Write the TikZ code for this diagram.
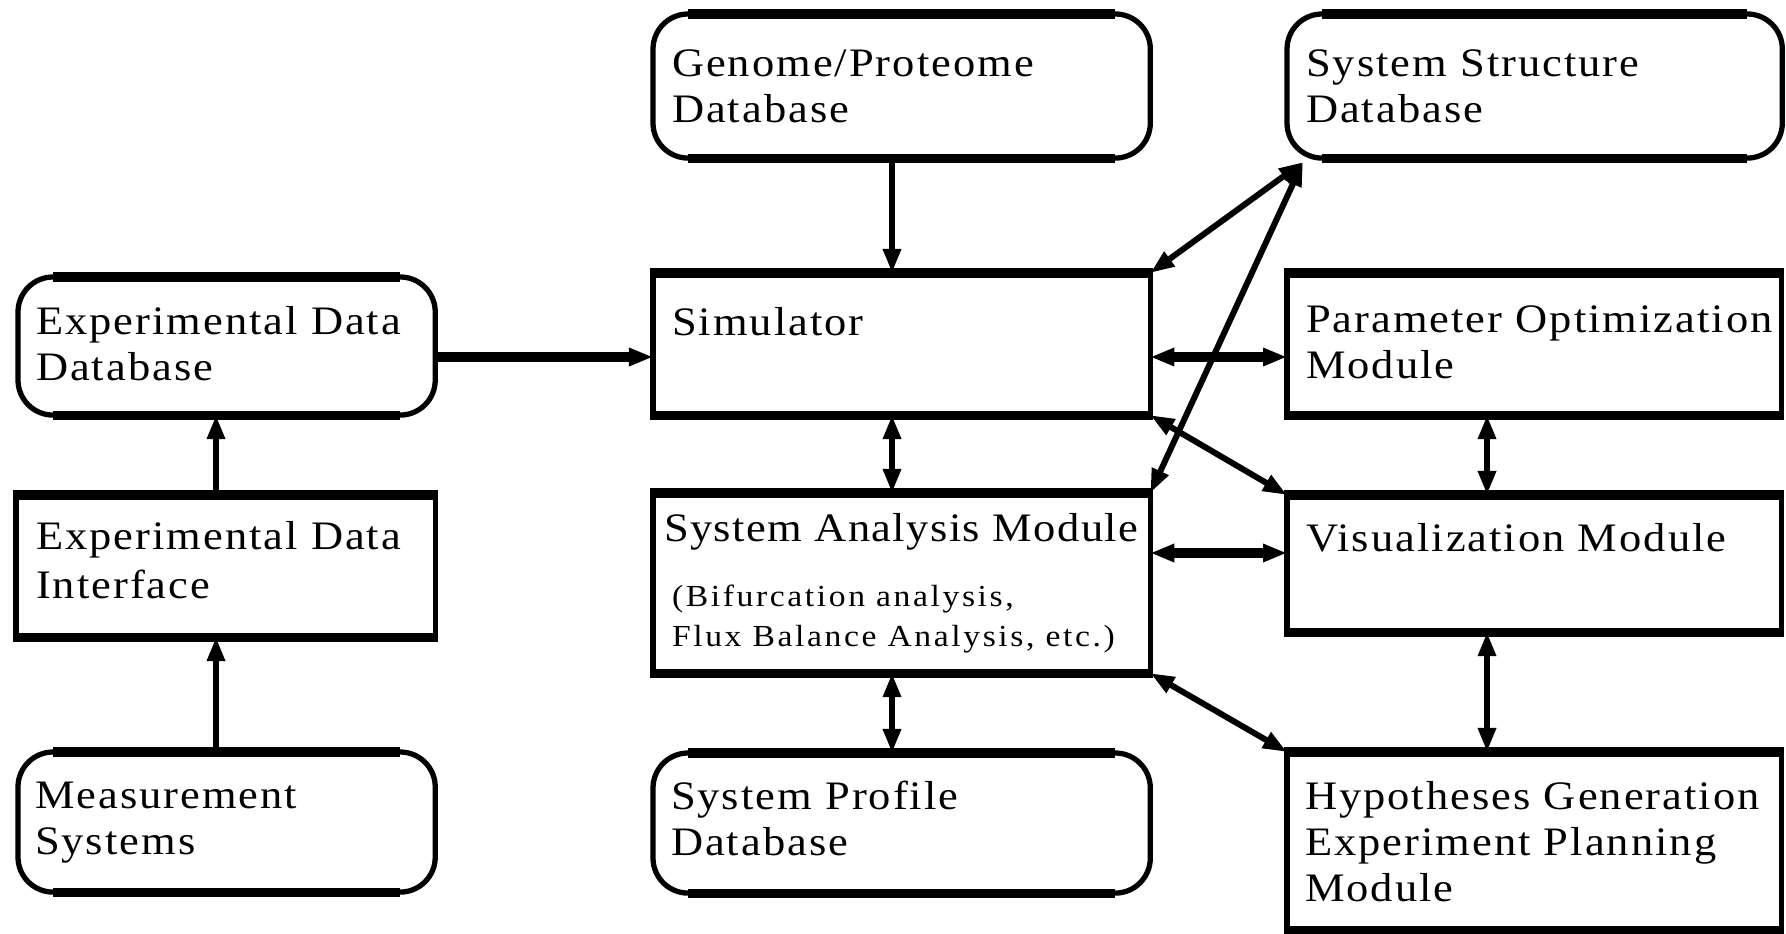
\documentclass[tikz,border=0pt]{standalone}
\usepackage{fontspec}
\setmainfont{Liberation Serif}[FakeStretch=1.1,LetterSpace=5]
\newfontfamily\smallfnt{Liberation Serif}[FakeStretch=1.1,LetterSpace=8.5]
\usetikzlibrary{arrows.meta,calc}
\newcommand\mystrut{\rule{0pt}{9pt}}
\newcommand\mysmallstrut{\rule{0pt}{7pt}}
\begin{document}
\begin{tikzpicture}[x=0.01cm,y=-0.01cm,
  rbox/.style={draw, line width=1.5pt, inner sep=0pt, outer sep=0pt, anchor=north west},
  dbbox/.style={rbox, rounded corners=0.35cm},
  txt/.style={anchor=north west, inner sep=0pt, outer sep=0pt, align=left, font=\fontsize{11.5}{13}\selectfont},
  smalltxt/.style={txt, font={\smallfnt\fontsize{8.7}{11.4}\selectfont}},
  bar/.style={line width=2.6pt},
  conn/.style={line width=1.7pt},
  heavy/.style={line width=2.6pt},
  oneway/.style={conn, -{Triangle[length=0.24cm,width=0.17cm]}},
  twoway/.style={conn, {Triangle[length=0.24cm,width=0.17cm]}-{Triangle[length=0.24cm,width=0.17cm]}}
]
\useasboundingbox (0,0) rectangle (1786,934);

% database (rounded) boxes
\node[dbbox, minimum width=4.97cm, minimum height=1.44cm] (gen) at (653,14) {};
\node[dbbox, minimum width=4.95cm, minimum height=1.44cm] (ss) at (1287,14) {};
\node[dbbox, minimum width=4.17cm, minimum height=1.38cm] (expdb) at (18,277) {};
\node[dbbox, minimum width=4.17cm, minimum height=1.40cm] (ms) at (18,752) {};
\node[dbbox, minimum width=4.97cm, minimum height=1.40cm] (sp) at (653,753) {};

% module (rectangular) boxes
\node[rbox, minimum width=4.97cm, minimum height=1.42cm] (sim) at (653,273) {};
\node[rbox, minimum width=4.94cm, minimum height=1.42cm] (po) at (1287,273) {};
\node[rbox, minimum width=4.19cm, minimum height=1.42cm] (edi) at (16,495) {};
\node[rbox, minimum width=4.97cm, minimum height=1.80cm] (sa) at (653,493) {};
\node[rbox, minimum width=4.94cm, minimum height=1.37cm] (vis) at (1287,495) {};
\node[rbox, minimum width=4.94cm, minimum height=1.78cm] (hyp) at (1287,752) {};

% heavier top and bottom edges
\foreach \n in {sim,po,edi,sa,vis,hyp}{
  \draw[bar] ([xshift=-0.75pt]\n.north west) -- ([xshift=0.75pt]\n.north east)
             ([xshift=-0.75pt]\n.south west) -- ([xshift=0.75pt]\n.south east);
}
\foreach \n in {gen,ss,expdb,ms,sp}{
  \draw[bar] ([xshift=0.35cm]\n.north west) -- ([xshift=-0.35cm]\n.north east)
             ([xshift=0.35cm]\n.south west) -- ([xshift=-0.35cm]\n.south east);
}

% texts
\node[txt] (gent) at ($(gen.north west)+(19,31)$) {\mystrut Genome/Proteome\\Database};
\node[txt] (sst) at ($(ss.north west)+(19,31)$) {\mystrut System Structure\\Database};
\node[txt] (expdbt) at ($(expdb.north west)+(18,26)$) {\mystrut Experimental Data\\Database};
\node[txt] (simt) at ($(sim.north west)+(19,31)$) {\mystrut Simulator};
\node[txt] (pot) at ($(po.north west)+(19,28)$) {\mystrut Parameter Optimization\\Module};
\node[txt, font=\fontsize{11.5}{14}\selectfont] (edit) at ($(edi.north west)+(20,23)$) {\mystrut Experimental Data\\Interface};
\node[txt, font={\fontsize{11.5}{13}\selectfont\addfontfeatures{LetterSpace=3.5}}] (sat) at ($(sa.north west)+(11,17)$) {\mystrut System Analysis Module};
\node[smalltxt] (sat2) at ($(sa.north west)+(19,89)$) {\mysmallstrut(Bifurcation analysis,\\Flux Balance Analysis, etc.)};
\node[txt] (vist) at ($(vis.north west)+(19,25)$) {\mystrut Visualization Module};
\node[txt] (mst) at ($(ms.north west)+(17,25)$) {\mystrut Measurement\\Systems};
\node[txt] (spt) at ($(sp.north west)+(18,25)$) {\mystrut System Profile\\Database};
\node[txt] (hypt) at ($(hyp.north west)+(18,26)$) {\mystrut Hypotheses Generation\\Experiment Planning\\Module};

% reference lines for connectors
\coordinate (xa) at (892,0);
\coordinate (xb) at (1487,0);
\coordinate (xc) at (216,0);
\coordinate (yd) at (0,357);
\coordinate (ye) at (0,553);
\coordinate (ssc) at ([xshift=0.16cm,yshift=-0.04cm]ss.south west);

% connectors
\draw[oneway] (gen.south -| xa) -- (sim.north -| xa);
\draw[oneway, heavy] (expdb.east |- yd) -- (sim.west |- yd);
\draw[oneway] (edi.north -| xc) -- (expdb.south -| xc);
\draw[oneway] (ms.north -| xc) -- (edi.south -| xc);
\draw[twoway] (sim.south -| xa) -- (sa.north -| xa);
\draw[twoway] (sa.south -| xa) -- (sp.north -| xa);
\draw[twoway, heavy] (sim.east |- yd) -- (po.west |- yd);
\draw[twoway, heavy] (sa.east |- ye) -- (vis.west |- ye);
\draw[twoway] (po.south -| xb) -- (vis.north -| xb);
\draw[twoway] (vis.south -| xb) -- (hyp.north -| xb);
\draw[twoway] (sim.north east) -- (ssc);
\draw[twoway] (sa.north east) -- (ssc);
\draw[twoway] (sim.south east) -- (vis.north west);
\draw[twoway] (sa.south east) -- (hyp.north west);
\end{tikzpicture}
\end{document}
